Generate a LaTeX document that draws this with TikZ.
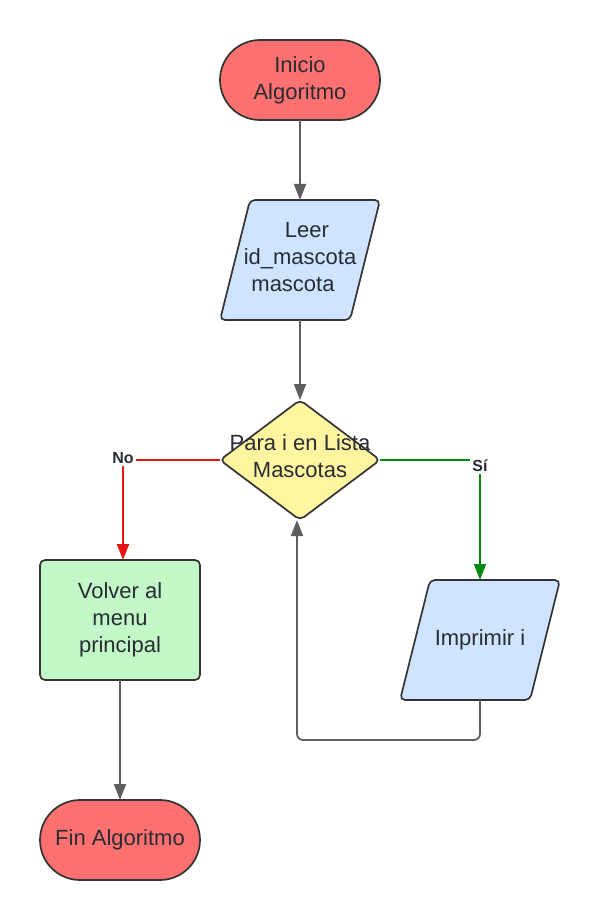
\documentclass[tikz,border=0pt]{standalone}
\usepackage{fontspec}
\setmainfont{Liberation Sans}
\usetikzlibrary{shapes.geometric,arrows.meta}
\definecolor{termred}{HTML}{FF7070}
\definecolor{ioblue}{HTML}{CFE4FF}
\definecolor{decyellow}{HTML}{FFF5A1}
\definecolor{procgreen}{HTML}{C3F7C8}
\definecolor{edgegray}{HTML}{5E5E5E}
\definecolor{bordercol}{HTML}{333333}
\definecolor{nored}{HTML}{E81313}
\definecolor{sigreen}{HTML}{008A0E}
\definecolor{txt}{HTML}{282C33}
\pgfdeclarelayer{background}
\pgfsetlayers{background,main}
\begin{document}
\begin{tikzpicture}[x=1pt,y=-1pt,
  base/.style={draw=bordercol, line width=1.7pt, text=txt, font=\fontsize{22}{27}\selectfont, align=center, inner sep=0pt, outer sep=0pt},
  term/.style={base, fill=termred, rectangle, rounded corners=40pt, minimum width=160pt, minimum height=80pt},
  io/.style={base, draw=none, rectangle, minimum width=160pt, minimum height=120pt},
  iopath/.style={draw=bordercol, line width=1.7pt, fill=ioblue, rounded corners=5pt},
  proc/.style={base, fill=procgreen, rectangle, rounded corners=5pt, minimum width=160pt, minimum height=120pt},
  dec/.style={base, fill=decyellow, diamond, minimum width=160pt, minimum height=120pt, rounded corners=5pt},
  dectext/.style={text=txt, font=\fontsize{22}{27}\selectfont, align=center, inner sep=0pt},
  conn/.style={draw=edgegray, line width=1.8pt, -{Triangle[length=16pt,width=12pt]}},
  noline/.style={conn, draw=nored, -{Triangle[length=16pt,width=12pt,fill=nored]}},
  siline/.style={conn, draw=sigreen, -{Triangle[length=16pt,width=12pt,fill=sigreen]}},
  lbl/.style={fill=white, text=txt, font=\fontsize{16}{18}\selectfont\bfseries, inner sep=2pt}
]
\useasboundingbox (0,0) rectangle (600,920);

\node[term] (inicio) at (300,80) {Inicio\\Algoritmo};
\node[io] (leer) at (300,260) {};
\node[dectext] (leertext) at (300,257) {\hspace*{14pt}Leer\\id\_mascota\\mascota\hspace*{14pt}};
\node[dec] (para) at (300,460) {};
\node[dectext] (paratext) at (300,456) {Para i en Lista\\Mascotas};
\node[proc] (volver) at (120,620) {Volver al\\menu\\principal};
\node[term] (fin) at (120,840) {Fin Algoritmo};
\node[io] (imprimir) at (480,640) {Imprimir i};

\begin{pgfonlayer}{background}
\draw[iopath] ([xshift=30pt]leer.north west) -- (leer.north east) -- ([xshift=-30pt]leer.south east) -- (leer.south west) -- cycle;
\draw[iopath] ([xshift=30pt]imprimir.north west) -- (imprimir.north east) -- ([xshift=-30pt]imprimir.south east) -- (imprimir.south west) -- cycle;
\end{pgfonlayer}

\draw[conn] (inicio.south) -- (leer.north);
\draw[conn] (leer.south) -- (para.north);
\draw[noline] (para.west) -| ([xshift=3pt]volver.north);
\draw[siline] (para.east) -| (imprimir.north);
\draw[conn] (volver.south) -- (fin.north);
\draw[conn, rounded corners=6pt] (imprimir.south) -- ++(0,40) -| ([xshift=-3pt]para.south);

\node[lbl] (nolbl) at (123,458) {No};
\node[lbl] (silbl) at (480,466) {Sí};
\end{tikzpicture}
\end{document}
